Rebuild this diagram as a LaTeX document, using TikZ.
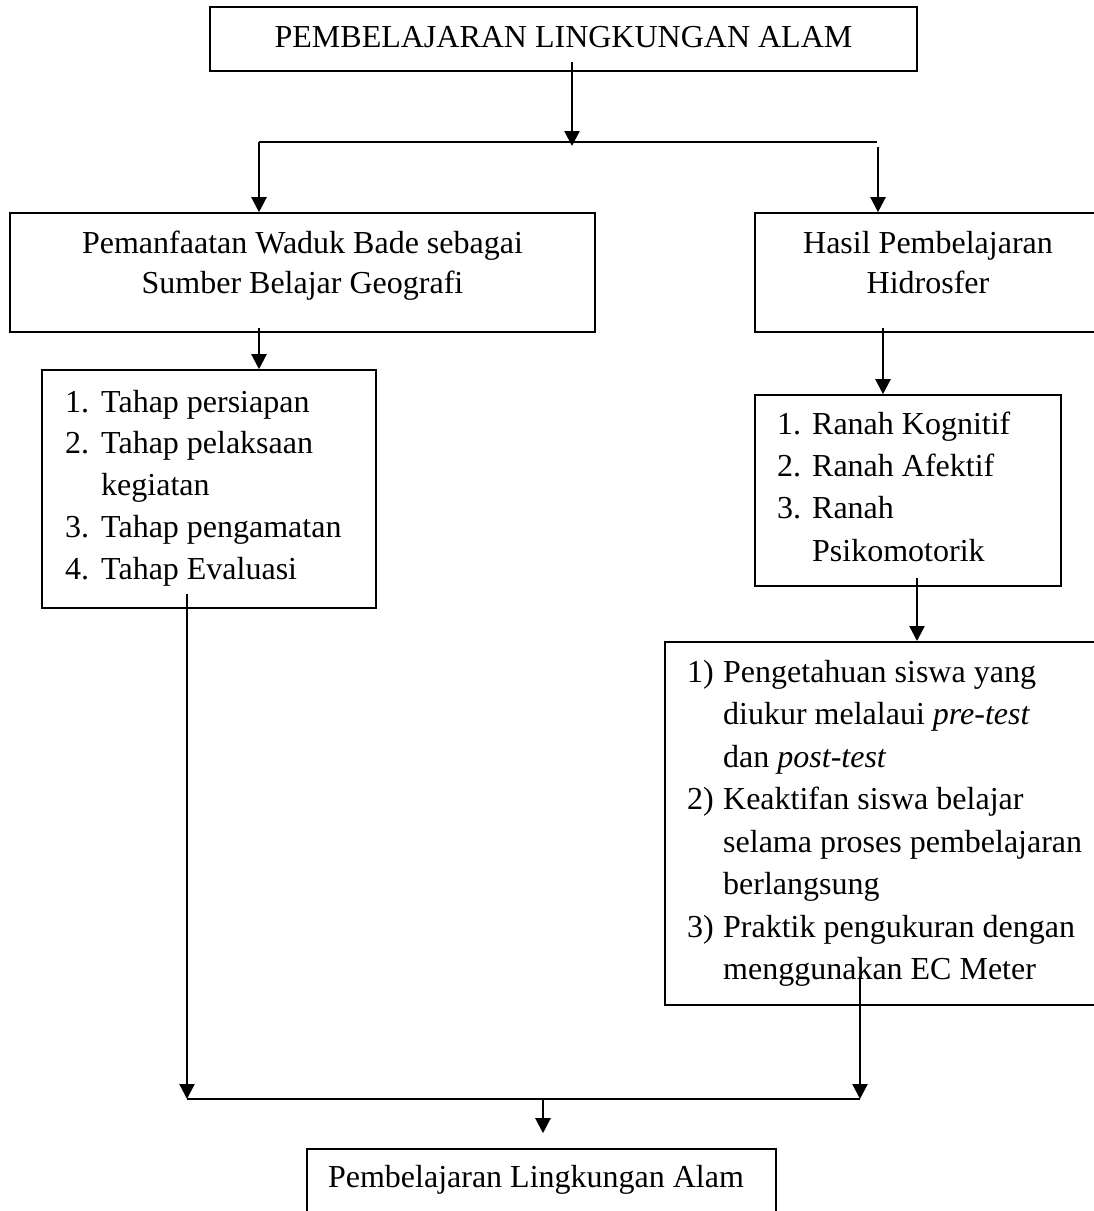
\documentclass[tikz,border=0pt]{standalone}
\usepackage{fontspec}
\setmainfont{Liberation Serif}
\usetikzlibrary{arrows.meta,calc}
\tikzset{
  boxnode/.style={draw, line width=1.6pt, rectangle, inner sep=0pt, anchor=center},
  txt/.style={inner sep=0pt, font=\fontsize{32}{42.5}\selectfont},
  conn/.style={line width=2.2pt},
  arr/.style={conn, -{Triangle[width=15pt,length=15pt]}},
}
\begin{document}
\begin{tikzpicture}[x=1pt,y=-1pt]
\useasboundingbox (0,0) rectangle (1094,1211);
\clip (0,0) rectangle (1094,1211);
\fill[white] (0,0) rectangle (1094,1211);

% boxes
\node[boxnode, minimum width=707pt, minimum height=64pt] (top) at (563.5,39) {};
\node[boxnode, minimum width=585pt, minimum height=119pt] (pem) at (302.5,272.5) {};
\node[boxnode, minimum width=346pt, minimum height=119pt] (hasil) at (928,272.5) {};
\node[boxnode, minimum width=334pt, minimum height=238pt] (tahap) at (209,489) {};
\node[boxnode, minimum width=306pt, minimum height=191pt] (ranah) at (908,490.5) {};
\node[boxnode, minimum width=445pt, minimum height=363pt, line width=2pt] (indik) at (887.5,823.5) {};
\node[boxnode, minimum width=469pt, minimum height=81pt] (akhir) at (541.5,1189.5) {};

% texts (multi-line nodes: base = baseline of last line)
\node[txt, anchor=base] (ttop) at (563.5,47) {PEMBELAJARAN LINGKUNGAN ALAM};
\node[txt, anchor=base, align=center, font=\fontsize{32}{40}\selectfont] (tpem) at (302.5,293)
  {Pemanfaatan Waduk Bade sebagai\\Sumber Belajar Geografi};
\node[txt, anchor=base, align=center, font=\fontsize{32}{40}\selectfont] (thasil) at (928,293)
  {Hasil Pembelajaran\\Hidrosfer};
\node[txt, anchor=base west, align=left, font=\fontsize{32}{41.75}\selectfont] (ttahap) at (65,579)
  {\makebox[36pt][l]{1.}Tahap persiapan\\
   \makebox[36pt][l]{2.}Tahap pelaksaan\\
   \hspace*{36pt}kegiatan\\
   \makebox[36pt][l]{3.}Tahap pengamatan\\
   \makebox[36pt][l]{4.}Tahap Evaluasi};
\node[txt, anchor=base west, align=left, font=\fontsize{32}{42.3}\selectfont] (tranah) at (777,561)
  {\makebox[35pt][l]{1.}Ranah Kognitif\\
   \makebox[35pt][l]{2.}Ranah Afektif\\
   \makebox[35pt][l]{3.}Ranah\\
   \hspace*{35pt}Psikomotorik};
\node[txt, anchor=base west, align=left, font=\fontsize{32}{42.5}\selectfont] (tindik) at (687,979.5)
  {\makebox[36pt][l]{1)}Pengetahuan siswa yang\\
   \hspace*{36pt}diukur melalaui \textit{pre-test}\\
   \hspace*{36pt}dan \textit{post-test}\\
   \makebox[36pt][l]{2)}Keaktifan siswa belajar\\
   \hspace*{36pt}selama proses pembelajaran\\
   \hspace*{36pt}berlangsung\\
   \makebox[36pt][l]{3)}Praktik pengukuran dengan\\
   \hspace*{36pt}menggunakan EC Meter};
\node[txt, anchor=base] (takhir) at (536,1187) {Pembelajaran Lingkungan Alam};

% connectors
\coordinate (hM) at (572,146);
\coordinate (hL) at (259,142);
\coordinate (hR) at (877,142);
\draw[arr] ($(hM |- top.south)+(0,-10)$) -- (hM);
\draw[conn] (hL) -- (hR);
\draw[arr] (hL) -- (hL |- pem.north);
\draw[arr] ($(hR)+(1,5)$) -- ($(hR |- hasil.north)+(1,0)$);
\draw[arr] ($(hL |- pem.south)+(0,-5)$) -- (hL |- tahap.north);
\draw[arr] ($(hasil.south)+(-45,-5)$) -- ($(ranah.north)+(-25,0)$);
\draw[arr] ($(ranah.south)+(9,-9)$) -- ($(indik.north)+(29.5,0)$);

\coordinate (bL) at (187,1099);
\coordinate (bR) at (860,1099);
\coordinate (bM) at (543,1099);
\draw[arr] ($(tahap.south)+(-22,-15)$) -- (bL);
\draw[arr] ($(indik.south)+(-27.5,-30)$) -- (bR);
\draw[conn] (bL) -- (bR);
\draw[arr] (bM) -- ($(akhir.north)+(1.5,-15)$);
\end{tikzpicture}
\end{document}
